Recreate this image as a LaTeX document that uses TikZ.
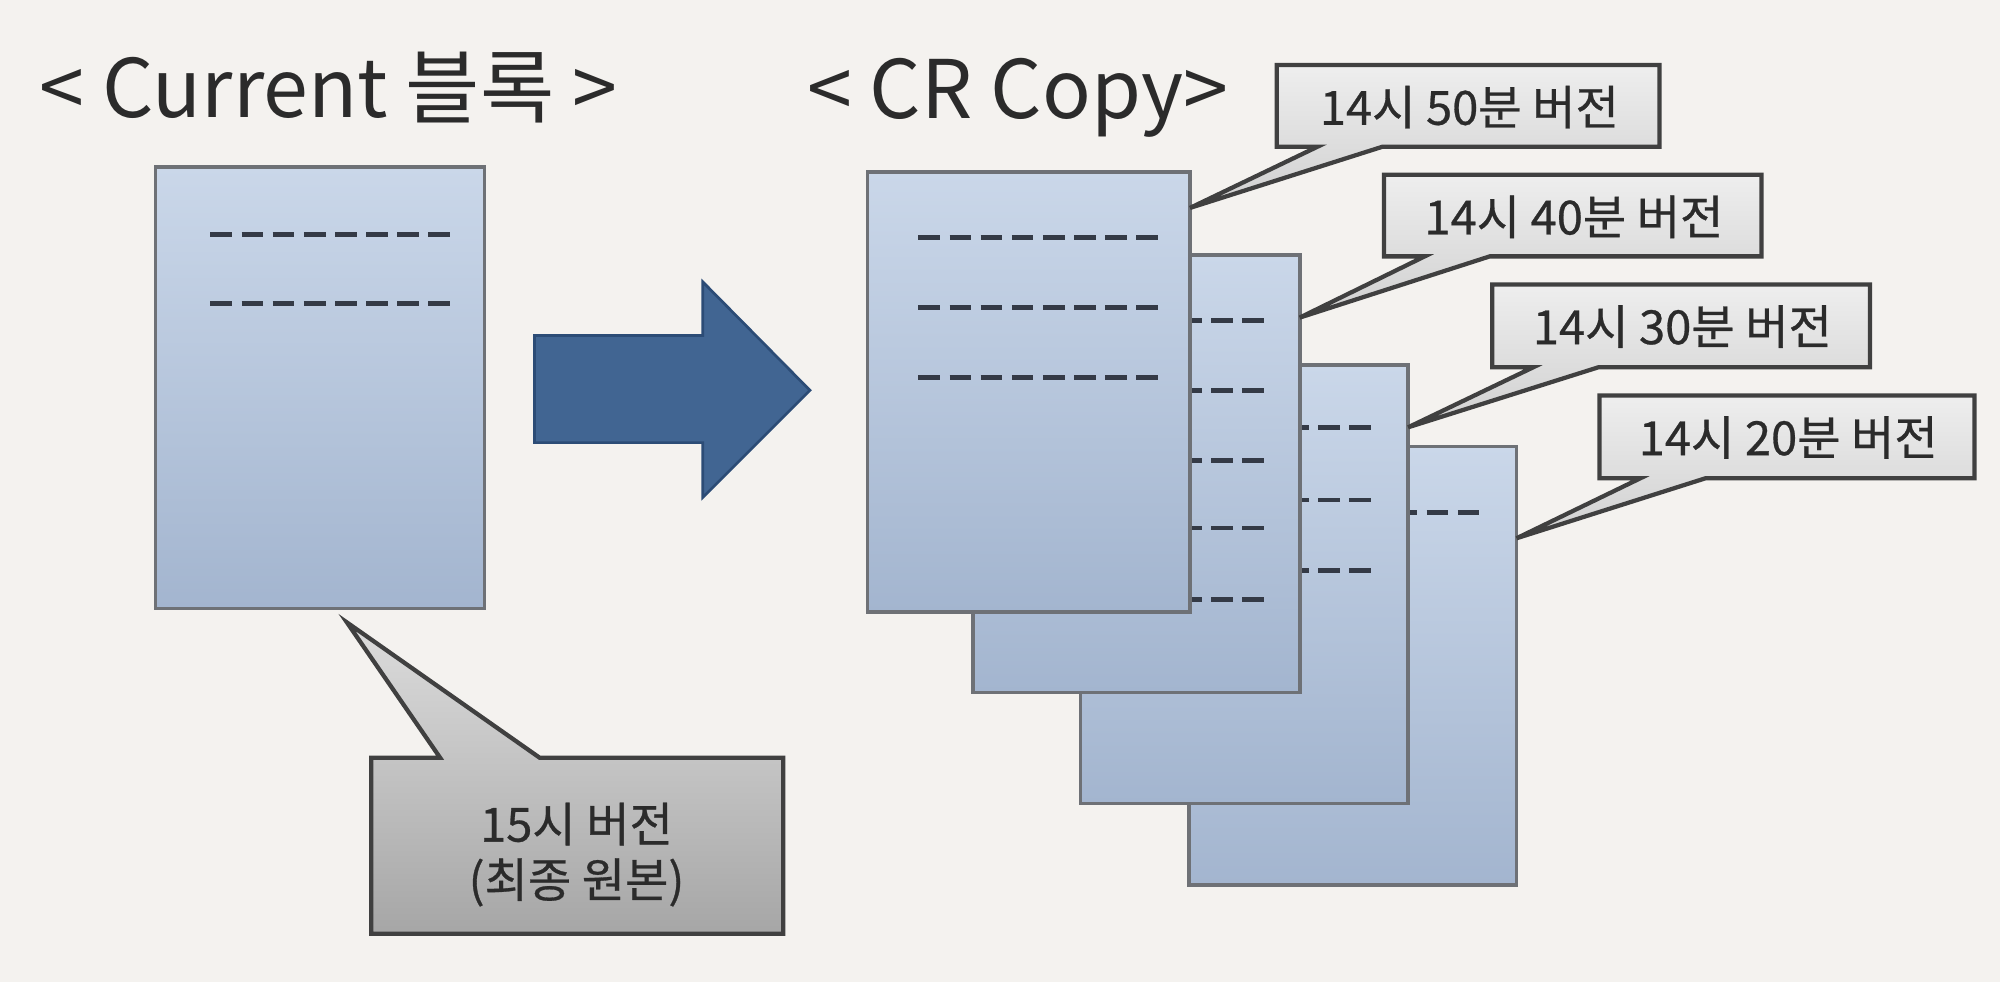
\documentclass[tikz,border=0pt]{standalone}
\usepackage{fontspec}
\setmainfont{Noto Sans CJK KR}
\newfontfamily\callfont{Noto Sans CJK KR}[FakeBold=0.6]
\definecolor{bgpaper}{HTML}{F4F2EF}
\definecolor{pagetop}{HTML}{CAD7E9}
\definecolor{pagebot}{HTML}{A3B5CF}
\definecolor{pageedge}{HTML}{6E7176}
\definecolor{arrowfill}{HTML}{416592}
\definecolor{arrowedge}{HTML}{2C4C76}
\definecolor{calltop}{HTML}{EEEEEE}
\definecolor{callbot}{HTML}{D0D0D0}
\definecolor{bigtop}{HTML}{DCDCDC}
\definecolor{bigbot}{HTML}{A6A6A6}
\definecolor{calledge}{HTML}{404040}
\definecolor{inktext}{HTML}{2B2B2B}
\definecolor{markink}{HTML}{343A46}
\begin{document}
\begin{tikzpicture}[x=0.01cm,y=-0.01cm,
  pagebox/.style={top color=pagetop,bottom color=pagebot,draw=pageedge,line width=0.8pt},
  markline/.style={draw=markink,line width=1.05pt,dash pattern=on 0.17cm off 0.074cm},
  callbox/.style={top color=calltop,bottom color=callbot,draw=calledge,line width=0.95pt,line join=miter},
  bigcall/.style={top color=bigtop,bottom color=bigbot,draw=calledge,line width=0.95pt,line join=miter},
  titletext/.style={anchor=base west,inner sep=0pt,text=inktext,font=\fontsize{18}{21}\selectfont},
  calltext/.style={inner sep=0pt,text=inktext,font=\callfont\fontsize{10.5}{12.4}\selectfont,align=center}]
\useasboundingbox (0,0) rectangle (1568,770);
\fill[bgpaper] (0,0) rectangle (1568,770);

% titles
\node[titletext] (t1) at (30,92) {<\ Current 블록 >};
\node[titletext] (t2) at (632,93) {<\ CR Copy>};

% current block
\shade[pagebox] (122,131) rectangle (380,477);
\draw[markline] (165,184) -- (353,184);
\draw[markline] (165,238) -- (353,238);

% big arrow
\fill[arrowfill,draw=arrowedge,line width=0.6pt,line join=miter]
  (419,263) -- (551,263) -- (551,221) -- (635,306) -- (551,390) -- (551,347) -- (419,347) -- cycle;

% 15 callout
\shade[bigcall] (291,594) -- (345,594) -- (272,488) -- (423,594) -- (614,594) -- (614,732) -- (291,732) -- cycle;
\node[calltext] (c15) at (452,670) {15시 버전\\(최종 원본)};

% CR pages (back to front)
\shade[pagebox] (932,350) rectangle (1189,694);
\draw[markline] (972,402) -- (1164,402);

\shade[pagebox] (847,286) rectangle (1104,630);
\foreach \yy in {335,392,447} \draw[markline] (887,\yy) -- (1077,\yy);

\shade[pagebox] (763,200) rectangle (1019,543);
\foreach \yy in {251,306,361,414,470} \draw[markline] (803,\yy) -- (993,\yy);

\shade[pagebox] (680,135) rectangle (933,480);
\foreach \yy in {186,241,296} \draw[markline] (720,\yy) -- (910,\yy);

% version callouts
\shade[callbox] (1001,51) -- (1301,51) -- (1301,115) -- (1084,115) -- (933,163) -- (1033,115) -- (1001,115) -- cycle;
\node[calltext] (c50) at (1152,84) {14시 50분 버전};

\shade[callbox] (1085,137) -- (1381,137) -- (1381,201) -- (1168,201) -- (1019,249) -- (1117,201) -- (1085,201) -- cycle;
\node[calltext] (c40) at (1234,170) {14시 40분 버전};

\shade[callbox] (1170,223) -- (1466,223) -- (1466,288) -- (1253,288) -- (1104,335) -- (1202,288) -- (1170,288) -- cycle;
\node[calltext] (c30) at (1319,256) {14시 30분 버전};

\shade[callbox] (1254,310) -- (1548,310) -- (1548,375) -- (1337,375) -- (1189,422) -- (1286,375) -- (1254,375) -- cycle;
\node[calltext] (c20) at (1402,343) {14시 20분 버전};
\end{tikzpicture}
\end{document}
